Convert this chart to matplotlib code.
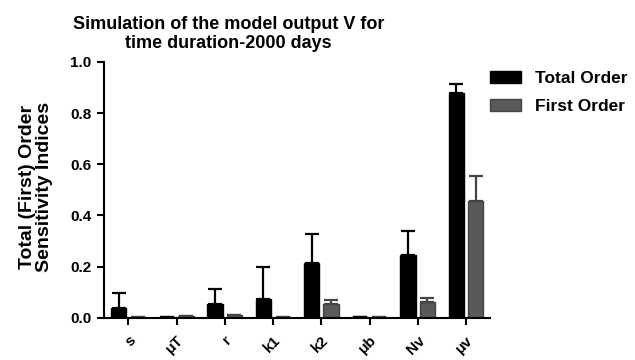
import numpy as np
import matplotlib
matplotlib.use('Agg')
import matplotlib.pyplot as plt

#### DATA

params = ['s', 'μT', 'r', 'k1', 'k2', 'μb', 'Nv', 'μv']

total_order = [0.040, 0.003, 0.055, 0.072, 0.213, 0.002, 0.246, 0.879]
total_err = [0.058, 0.0, 0.057, 0.126, 0.113, 0.0, 0.093, 0.034]

first_order = [0.005, 0.006, 0.010, 0.003, 0.055, 0.003, 0.062, 0.457]
first_err = [0.0, 0.0, 0.0, 0.0, 0.015, 0.0, 0.016, 0.098]

#### PLOT

plt.rcParams['font.family'] = ['Liberation Sans', 'DejaVu Sans']
plt.rcParams['font.weight'] = 'bold'

fg = plt.figure(figsize=(6.35, 3.6), dpi=100)
ax = fg.add_axes([0.164, 0.117, 0.608, 0.711])

x = np.arange(len(params))
bw = 0.32
off = 0.2

ax.bar(x - off, total_order, bw, color='black', edgecolor='black', label='Total Order',
       yerr=[np.zeros(len(x)), total_err], capsize=5,
       error_kw=dict(ecolor='black', elinewidth=1.6, capthick=1.6))
ax.bar(x + off, first_order, bw, color='#595959', edgecolor='#444444', label='First Order',
       yerr=[np.zeros(len(x)), first_err], capsize=5,
       error_kw=dict(ecolor='#444444', elinewidth=1.6, capthick=1.6))

ax.set_xlim(-0.5, 7.5)
ax.set_ylim(0, 1.0)
ax.set_yticks([0, 0.2, 0.4, 0.6, 0.8, 1.0])
ax.set_yticklabels(['0.0', '0.2', '0.4', '0.6', '0.8', '1.0'], fontsize=11, fontweight='bold')
ax.set_xticks(x)
ax.set_xticklabels(params, rotation=45, ha='right', rotation_mode='anchor', fontsize=11, fontweight='bold')

for sp in ['top', 'right']:
	ax.spines[sp].set_visible(False)
for sp in ['left', 'bottom']:
	ax.spines[sp].set_linewidth(1.5)
ax.tick_params(direction='out', length=5, width=1.5)
ax.tick_params(axis='x', pad=6)
ax.tick_params(axis='y', pad=4)

ax.set_ylabel('Total (First) Order\nSensitivity Indices', fontsize=14, fontweight='bold', linespacing=1.0)
ax.yaxis.set_label_coords(-0.132, 0.51)

fg.text(0.36, 0.955, 'Simulation of the model output V for\ntime duration-2000 days',
        ha='center', va='top', fontsize=13, fontweight='bold', linespacing=1.1)

ax.legend(loc='upper left', bbox_to_anchor=(1.0, 0.965), frameon=False,
          handlelength=1.75, handleheight=0.7, labelspacing=0.75, handletextpad=0.85,
          borderpad=0, borderaxespad=0, prop=dict(weight='bold', size=12.5))

plt.savefig('out.png', dpi=100)
